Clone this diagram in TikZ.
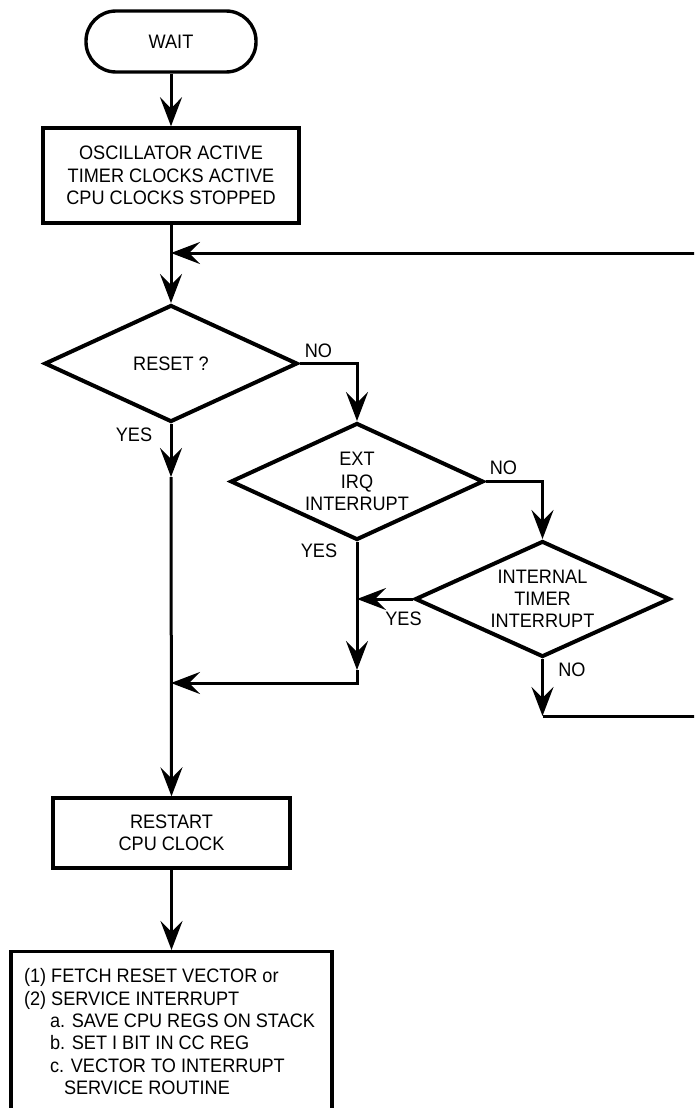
\documentclass[tikz,border=0pt]{standalone}
\usepackage{fontspec}
\newfontfamily\dfont{Liberation Sans}[FakeStretch=0.93]
\usetikzlibrary{shapes.geometric,arrows.meta}
\begin{document}
\begin{tikzpicture}[x=1pt,y=-1pt,
  every node/.style={font=\dfont\fontsize{19.5}{22.3}\selectfont},
  box/.style={draw, line width=3.4pt, rectangle, inner sep=0pt},
  term/.style={draw, line width=3.4pt, rectangle, rounded corners=30pt, minimum width=170pt, minimum height=61pt, inner sep=0pt},
  dec/.style={draw, line width=4pt, diamond, inner sep=0pt, minimum width=253pt, minimum height=117pt, aspect=2.16, align=center},
  conn/.style={line width=3pt, -{Stealth[length=29pt,width=22pt,inset=11pt]}},
  plain/.style={line width=3pt},
  lbl/.style={inner sep=0pt}]
\useasboundingbox (0,0) rectangle (694,1108);
\clip (0,0) rectangle (694,1108);

% nodes
\node[term] (wait) at (171,41.5) {WAIT};
\node[box, minimum width=256pt, minimum height=95pt, align=center] (osc) at (171,175.5)
  {OSCILLATOR ACTIVE\\TIMER CLOCKS ACTIVE\\CPU CLOCKS STOPPED};
\node[dec] (reset) at (171,363.5) {RESET ?};
\node[dec] (ext) at (357,481.5) {EXT\\IRQ\\INTERRUPT};
\node[dec, minimum width=255pt, minimum height=116pt] (int) at (542.5,599) {INTERNAL\\TIMER\\INTERRUPT};
\node[box, minimum width=237pt, minimum height=70pt, align=center] (restart) at (171.5,833)
  {RESTART\\CPU CLOCK};
\node[box, anchor=north, inner xsep=13pt, inner ysep=17pt] (final) at (171.5,950)
  {\parbox[t][160pt][t]{295pt}{\raggedright
   (1) FETCH RESET VECTOR or\\
   (2) SERVICE INTERRUPT\\
   \hspace*{26pt}a. SAVE CPU REGS ON STACK\\
   \hspace*{26pt}b. SET I BIT IN CC REG\\
   \hspace*{26pt}c. VECTOR TO INTERRUPT\\
   \hspace*{40pt}SERVICE ROUTINE}};

% labels
\node[lbl] (noA) at (318.5,350.5) {NO};
\node[lbl] (yesA) at (134,434.5) {YES};
\node[lbl] (noB) at (503.5,467.5) {NO};
\node[lbl] (yesB) at (319,551) {YES};
\node[lbl] (yesC) at (403.5,618.5) {YES};
\node[lbl] (noC) at (572,669.5) {NO};

% helper coordinates
\coordinate (j1) at (171,253);
\coordinate (rt) at (700,253);
\coordinate (m1) at (171,477);
\coordinate (j2) at (171,683);
\coordinate (m2) at (357,670);
\coordinate (j3) at (357,599);
\coordinate (m3) at (542.5,716);
\coordinate (rb) at (700,716);

% connectors
\draw[conn] (wait) -- (osc);
\draw[conn] (osc) -- (reset);
\draw[conn] (rt) -- (j1);
\draw[conn] (reset.south) -- (m1);
\draw[conn] (m1) -- (restart.north);
\draw[conn] (reset.east) -| (ext.north);
\draw[conn] (ext.east) -| (int.north);
\draw[conn] (ext.south) -- (m2);
\draw[conn] (m2) |- (j2);
\draw[conn] (int.west) -- (j3);
\draw[conn] (int.south) -- (m3);
\draw[plain] (m3) -- (rb);
\draw[conn] (restart) -- (final);
\end{tikzpicture}
\end{document}
